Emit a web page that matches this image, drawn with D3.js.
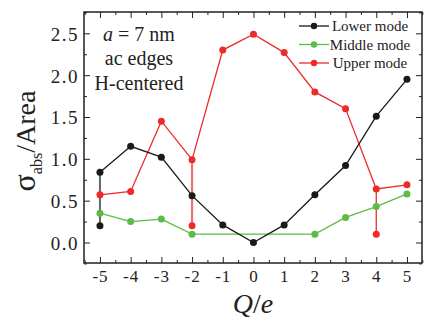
<!DOCTYPE html>
<html>
<head>
<meta charset="utf-8">
<script src="https://cdn.jsdelivr.net/npm/d3@7"></script>
<style>
  html, body { margin: 0; padding: 0; background: #fff; }
  svg { display: block; font-family: "Liberation Serif", "Times New Roman", serif; }
</style>
</head>
<body>
<svg id="chart" width="436" height="323"></svg>
<script>
// charge values Q/e
const charges = [-5, -4, -3, -2, -1, 0, 1, 2, 3, 4, 5];
// sigma_abs / Area, one value per charge
const lowerMode = [0.84, 1.15, 1.02, 0.56, 0.21, 0.0, 0.21, 0.57, 0.92, 1.51, 1.95];
const upperMode = [0.57, 0.61, 1.45, 0.99, 2.30, 2.49, 2.27, 1.80, 1.60, 0.64, 0.69];
// middle mode has no marker between -2 and 2
const middleCharges = [-5, -4, -3, -2, 2, 3, 4, 5];
const middleMode = [0.35, 0.25, 0.28, 0.10, 0.10, 0.30, 0.43, 0.58];
// second (split) value at a charge, drawn with a vertical connector
const lowerSplit = [[-5, 0.20]];
const upperSplit = [[-2, 0.20], [4, 0.10]];

const xTicks = [-5, -4, -3, -2, -1, 0, 1, 2, 3, 4, 5];
const yTicks = [0.0, 0.5, 1.0, 1.5, 2.0, 2.5];
const legendNames = ["Lower mode", "Middle mode", "Upper mode"];

const colLower = "#1a1a1a", colMiddle = "#5dbb46", colUpper = "#ee2b2b";

const svg = d3.select("#chart");
const m = {left: 84, top: 12, right: 422, bottom: 263};

const x = d3.scaleLinear().domain([-5.52, 5.49]).range([m.left, m.right]);
const y = d3.scaleLinear().domain([-0.245, 2.755]).range([m.bottom, m.top]);

// axes: ticks pointing inward, minor ticks between majors
const xMinor = d3.range(-5.5, 5.51, 0.5).filter(v => !Number.isInteger(v));
const yMinor = d3.range(-0.25, 2.76, 0.25).filter(v => Math.abs(v * 2 - Math.round(v * 2)) > 1e-6);

function axisStyle(g) {
  g.select(".domain").remove();
  g.selectAll("line").attr("stroke", "#222").attr("stroke-width", 1);
}

svg.append("g").attr("transform", `translate(0,${m.bottom})`)
  .call(d3.axisBottom(x).tickValues(xTicks).tickSizeInner(-6).tickSizeOuter(0).tickPadding(7)
    .tickFormat(d => d))
  .call(axisStyle)
  .call(g => g.selectAll("text").attr("font-size", 17).attr("fill", "#222")
    .attr("letter-spacing", 1).attr("font-family", "Liberation Serif"));
svg.append("g").attr("transform", `translate(0,${m.bottom})`)
  .call(d3.axisBottom(x).tickValues(xMinor).tickSize(-3).tickFormat(""))
  .call(axisStyle);
svg.append("g").attr("transform", `translate(0,${m.top})`)
  .call(d3.axisTop(x).tickValues(xTicks).tickSize(-6).tickFormat(""))
  .call(axisStyle);
svg.append("g").attr("transform", `translate(0,${m.top})`)
  .call(d3.axisTop(x).tickValues(xMinor).tickSize(-3).tickFormat(""))
  .call(axisStyle);

svg.append("g").attr("transform", `translate(${m.left},0)`)
  .call(d3.axisLeft(y).tickValues(yTicks).tickSizeInner(-6).tickSizeOuter(0).tickPadding(5)
    .tickFormat(d3.format(".1f")))
  .call(axisStyle)
  .call(g => g.selectAll("text").attr("font-size", 19).attr("fill", "#222")
    .attr("letter-spacing", 1.5)
    .attr("font-family", "Liberation Serif").attr("dy", "0.36em"));
svg.append("g").attr("transform", `translate(${m.left},0)`)
  .call(d3.axisLeft(y).tickValues(yMinor).tickSize(-3).tickFormat(""))
  .call(axisStyle);
svg.append("g").attr("transform", `translate(${m.right},0)`)
  .call(d3.axisRight(y).tickValues(yTicks).tickSize(-6).tickFormat(""))
  .call(axisStyle);
svg.append("g").attr("transform", `translate(${m.right},0)`)
  .call(d3.axisRight(y).tickValues(yMinor).tickSize(-3).tickFormat(""))
  .call(axisStyle);

svg.append("rect")
  .attr("x", m.left).attr("y", m.top)
  .attr("width", m.right - m.left).attr("height", m.bottom - m.top)
  .attr("fill", "none").attr("stroke", "#222").attr("stroke-width", 1.5);

const line = d3.line().x(d => x(d[0])).y(d => y(d[1]));

const lowerPts = charges.map((q, i) => [q, lowerMode[i]]);
const upperPts = charges.map((q, i) => [q, upperMode[i]]);
const middlePts = middleCharges.map((q, i) => [q, middleMode[i]]);

// vertical connectors for split values
function splitLine(split, pts, color, w) {
  const p = pts.find(d => d[0] === split[0]);
  svg.append("path").attr("d", line([p, split]))
    .attr("fill", "none").attr("stroke", color).attr("stroke-width", w);
}
splitLine(lowerSplit[0], lowerPts, "#666", 2);
splitLine(upperSplit[0], upperPts, "#f07070", 2.2);
splitLine(upperSplit[1], upperPts, colUpper, 1.3);

const series = [
  {pts: middlePts, extra: [], color: colMiddle},
  {pts: upperPts, extra: upperSplit, color: colUpper},
  {pts: lowerPts, extra: lowerSplit, color: colLower}
];

series.forEach(s => {
  svg.append("path").attr("d", line(s.pts))
    .attr("fill", "none").attr("stroke", s.color).attr("stroke-width", 1.3);
  svg.append("g").selectAll("circle").data(s.pts.concat(s.extra)).join("circle")
    .attr("cx", d => x(d[0])).attr("cy", d => y(d[1])).attr("r", 3.5)
    .attr("fill", s.color);
});

// legend
const legColors = [colLower, colMiddle, colUpper];
const leg = svg.append("g");
legendNames.forEach((name, i) => {
  const ly = 26 + i * 18.5;
  leg.append("line").attr("x1", 299).attr("x2", 329).attr("y1", ly).attr("y2", ly)
    .attr("stroke", legColors[i]).attr("stroke-width", 1.3);
  leg.append("circle").attr("cx", 314).attr("cy", ly).attr("r", 3.2).attr("fill", legColors[i]);
  leg.append("text").attr("x", 370).attr("y", ly + 5).attr("text-anchor", "middle")
    .attr("font-size", 15).attr("fill", "#222").text(name);
});

// annotation
const note = svg.append("g").attr("font-size", 20).attr("fill", "#222").attr("text-anchor", "middle");
const t1 = note.append("text").attr("x", 139).attr("y", 40.5);
t1.append("tspan").attr("font-style", "italic").text("a");
t1.append("tspan").text(" = 7 nm");
note.append("text").attr("x", 139).attr("y", 65).text("ac edges");
note.append("text").attr("x", 139).attr("y", 90).text("H-centered");

// axis titles
const yt = svg.append("text").attr("transform", "translate(35,141) rotate(-90)")
  .attr("text-anchor", "middle").attr("font-size", 28).attr("fill", "#222");
yt.append("tspan").attr("font-size", 32).text("σ");
yt.append("tspan").attr("font-size", 16).attr("dy", 7).text("abs");
yt.append("tspan").attr("dy", -7).text("/Area");

const xt = svg.append("text").attr("x", 253).attr("y", 313).attr("text-anchor", "middle")
  .attr("font-size", 28).attr("font-style", "italic").attr("fill", "#222");
xt.append("tspan").text("Q");
xt.append("tspan").attr("font-style", "normal").text("/");
xt.append("tspan").text("e");
</script>
</body>
</html>
